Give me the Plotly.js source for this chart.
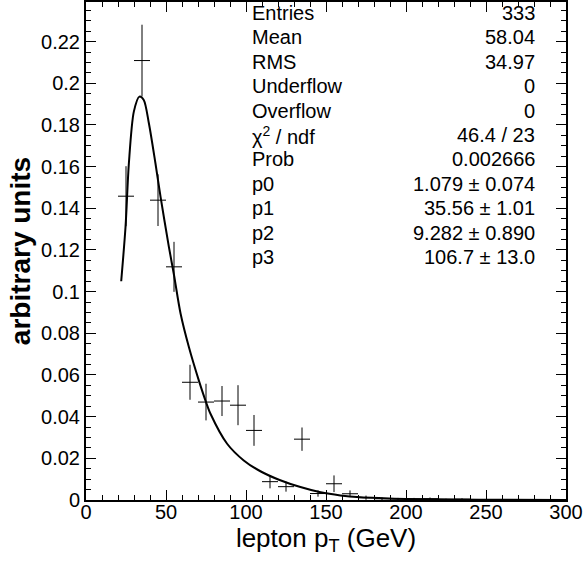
<!DOCTYPE html>
<html>
<head>
<meta charset="utf-8">
<script src="https://cdn.plot.ly/plotly-3.0.1.min.js"></script>
<style>html,body{margin:0;padding:0;background:#fff;}#chart{width:584px;height:563px;}</style>
</head>
<body>
<div id="chart"></div>
<script>
// Histogram bins (centre, content, error)
var binCenters = [25, 35, 45, 55, 65, 75, 85, 95, 105, 115, 125, 135, 145, 155, 165, 175, 185, 195, 205, 215, 225, 235];
var binValues  = [0.1458, 0.2109, 0.1439, 0.1119, 0.0565, 0.0470, 0.0475, 0.0455, 0.0334, 0.0088, 0.0064, 0.0292, 0.0031, 0.0078, 0.0030, 0.0011, 0.0006, 0.0005, 0.0005, 0.0006, 0.0003, 0.0004];
var binErrors  = [0.0144, 0.0172, 0.0124, 0.0120, 0.0084, 0.0088, 0.0072, 0.0096, 0.0074, 0.0032, 0.0024, 0.0056, 0.0015, 0.0040, 0.0016, 0.0010, 0.0006, 0.0005, 0.0005, 0.0006, 0.0003, 0.0004];
var binHalfWidth = [5,5,5,5,5,5,5,5,5,5,5,5,5,5,5,5,5,5,5,5,5,5];

// Fit curve
var fitX = [22, 24.7, 26.8, 29.9, 33.4, 36.1, 39.3, 43.4, 46.6, 51.8, 55, 59.1, 64.3, 70.5, 75, 77.8, 88.2, 98.6, 109, 121, 134, 146.6, 159, 171.6, 183, 200, 230, 260, 300];
var fitY = [0.105, 0.131, 0.1616, 0.1864, 0.1936, 0.192, 0.1808, 0.1616, 0.1455, 0.1215, 0.108, 0.0895, 0.0734, 0.0574, 0.047, 0.0414, 0.027, 0.019, 0.0138, 0.0096, 0.0062, 0.0037, 0.0022, 0.0013, 0.0009, 0.0005, 0.0002, 0.0001, 0.00005];

// Statistics box
var statLabels = ["Entries", "Mean", "RMS", "Underflow", "Overflow", "χ<sup>2</sup> / ndf", "Prob", "p0", "p1", "p2", "p3"];
var statValues = ["333", "58.04", "34.97", "0", "0", "46.4 / 23", "0.002666", "1.079 ± 0.074", "35.56 ± 1.01", "9.282 ± 0.890", "106.7 ± 13.0"];

var xTickVals = [0, 50, 100, 150, 200, 250, 300];
var xTickText = ["0", "50", "100", "150", "200", "250", "300"];
var yTickVals = [0, 0.02, 0.04, 0.06, 0.08, 0.1, 0.12, 0.14, 0.16, 0.18, 0.2, 0.22];
var yTickText = ["0", "0.02", "0.04", "0.06", "0.08", "0.1", "0.12", "0.14", "0.16", "0.18", "0.2", "0.22"];

var FONT = "Liberation Sans, Arial, Helvetica, sans-serif";

var traces = [
  {
    type: "scatter", mode: "markers",
    x: binCenters, y: binValues,
    marker: {size: 0.1, color: "rgba(0,0,0,0)"},
    error_x: {type: "data", array: binHalfWidth, symmetric: true, width: 0, thickness: 1, color: "#000"},
    error_y: {type: "data", array: binErrors, symmetric: true, width: 0, thickness: 1, color: "#000"},
    hoverinfo: "skip", showlegend: false
  },
  {
    type: "scatter", mode: "lines",
    x: fitX, y: fitY,
    line: {color: "#000", width: 2, shape: "spline", smoothing: 0.8},
    hoverinfo: "skip", showlegend: false
  }
];

var plotL = 85.5, plotR = 566, plotT = 2, plotB = 500;
var W = 584, H = 563;
var pw = plotR - plotL, ph = plotB - plotT;

var annotations = [];
for (var i = 0; i < statLabels.length; i++) {
  var yc = 13 + 24.4 * i;
  var yp = (plotB - yc) / ph;
  annotations.push({
    xref: "paper", yref: "paper", x: (250 - plotL) / pw, y: yp,
    xanchor: "left", yanchor: "middle", showarrow: false,
    text: statLabels[i], font: {family: FONT, size: 20, color: "#000"}
  });
  annotations.push({
    xref: "paper", yref: "paper", x: (537 - plotL) / pw, y: yp,
    xanchor: "right", yanchor: "middle", showarrow: false,
    text: statValues[i], font: {family: FONT, size: 20, color: "#000"}
  });
}

var layout = {
  width: W, height: H,
  margin: {l: plotL, r: W - plotR, t: plotT, b: H - plotB, pad: 0},
  paper_bgcolor: "#fff", plot_bgcolor: "#fff",
  font: {family: FONT, color: "#000"},
  showlegend: false,
  xaxis: {
    range: [0, 300], showgrid: false, zeroline: false,
    showline: true, linecolor: "#000", linewidth: 2, mirror: "ticks",
    ticks: "inside", ticklen: 10, tickwidth: 1, tickcolor: "#000",
    tickmode: "array", tickvals: xTickVals, ticktext: xTickText,
    tickfont: {family: FONT, size: 20},
    ticklabelposition: "outside", ticklabelstandoff: -7,
    minor: {dtick: 10, tick0: 0, ticks: "inside", ticklen: 5, tickwidth: 1, tickcolor: "#000", showgrid: false},
    title: {text: "lepton p<sub>T</sub> (GeV)", font: {family: FONT, size: 26}, standoff: 2}
  },
  yaxis: {
    range: [0, 0.239], showgrid: false, zeroline: false,
    showline: true, linecolor: "#000", linewidth: 2, mirror: "ticks",
    ticks: "inside", ticklen: 10, tickwidth: 1, tickcolor: "#000",
    tickmode: "array", tickvals: yTickVals, ticktext: yTickText,
    tickfont: {family: FONT, size: 20},
    minor: {dtick: 0.005, tick0: 0, ticks: "inside", ticklen: 5, tickwidth: 1, tickcolor: "#000", showgrid: false},
    title: {text: "<b>arbitrary units</b>", font: {family: FONT, size: 28}, standoff: 2}
  },
  annotations: annotations
};

Plotly.newPlot("chart", traces, layout, {displayModeBar: false, staticPlot: true});
</script>
</body>
</html>
